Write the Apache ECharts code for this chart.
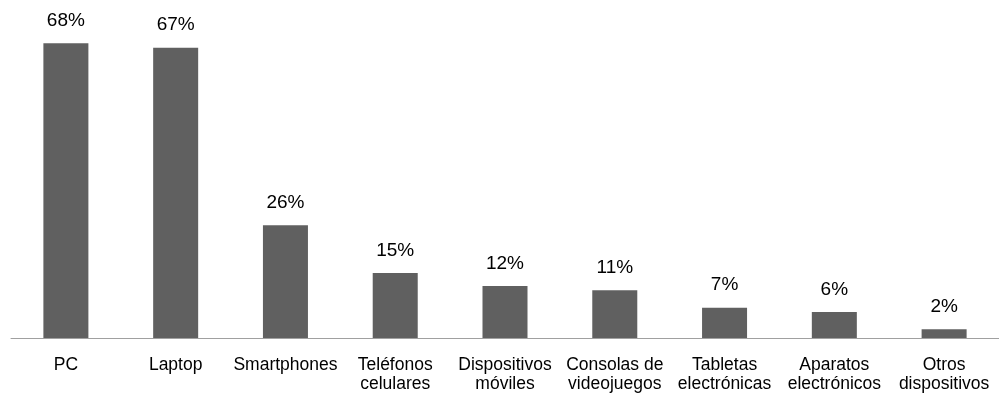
<!DOCTYPE html>
<html>
<head>
<meta charset="utf-8">
<script src="https://cdn.jsdelivr.net/npm/echarts@6/dist/echarts.min.js"></script>
<style>
  html, body { margin: 0; padding: 0; background: #fff; }
  #chart { width: 999px; height: 401px; }
</style>
</head>
<body>
<div id="chart"></div>
<script>
const categories = [
    'PC', 'Laptop', 'Smartphones', 'Teléfonos\ncelulares', 'Dispositivos\nmóviles',
    'Consolas de\nvideojuegos', 'Tabletas\nelectrónicas', 'Aparatos\nelectrónicos', 'Otros\ndispositivos'
];
const shares = [68, 67, 26, 15, 12, 11, 7, 6, 2];

const font = '"Liberation Sans", Arial, sans-serif';

const chart = echarts.init(document.getElementById('chart'), null, { renderer: 'canvas' });

chart.setOption({
    animation: false,
    grid: { left: 11, right: 0, top: 0, bottom: 63 },
    xAxis: {
        type: 'category',
        data: categories,
        axisLine: { lineStyle: { color: '#a0a0a0', width: 1 } },
        axisTick: { show: false },
        axisLabel: {
            interval: 0,
            margin: 18,
            color: '#000',
            fontFamily: font,
            fontSize: 17.5,
            lineHeight: 19
        }
    },
    yAxis: {
        type: 'value',
        min: 0,
        max: 78,
        show: false,
        splitLine: { show: false }
    },
    series: [{
        type: 'bar',
        data: shares,
        barWidth: '41%',
        itemStyle: { color: '#606060' },
        label: {
            show: true,
            position: 'top',
            distance: 13,
            color: '#000',
            fontFamily: font,
            fontSize: 19,
            formatter: (p) => p.value + '%'
        }
    }]
});
</script>
</body>
</html>
